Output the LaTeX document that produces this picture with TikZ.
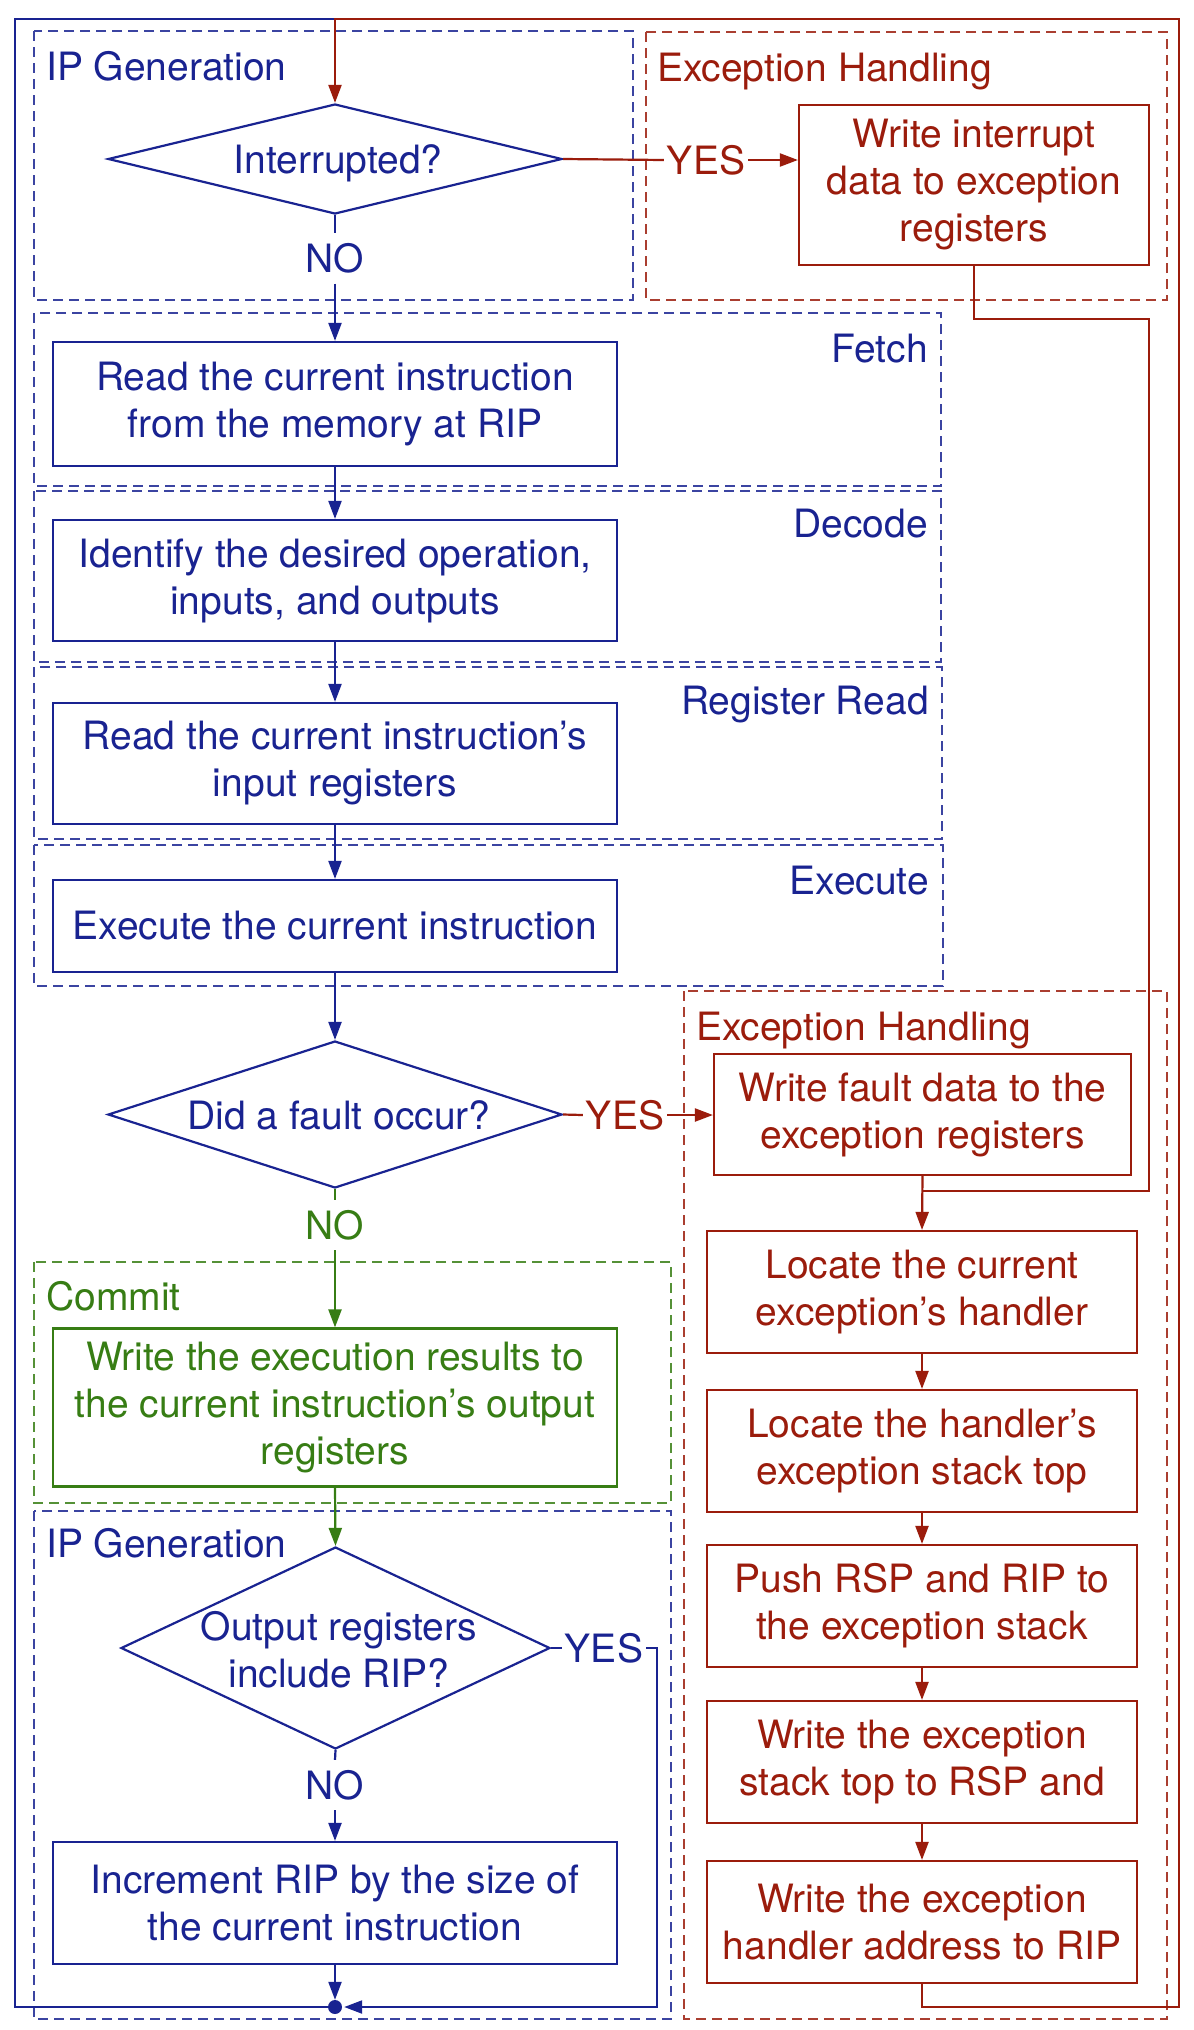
\documentclass[tikz,border=0pt]{standalone}
\usepackage{fontspec}
\setmainfont{TeX Gyre Heros}
\usetikzlibrary{arrows.meta,shapes.geometric}
\definecolor{cB}{RGB}{25,35,145}
\definecolor{cR}{RGB}{155,28,12}
\definecolor{cG}{RGB}{55,125,20}
\begin{document}
\begin{tikzpicture}[x=1pt,y=-1pt,
  every node/.style={font=\fontsize{39}{47}\selectfont},
  box/.style={draw=cB, text=cB, line width=2.2pt, align=center, inner sep=0pt, minimum width=564pt},
  gbox/.style={box, draw=cG, text=cG},
  rbox/.style={box, draw=cR, text=cR, minimum width=430pt, minimum height=122pt},
  dreg/.style={line width=2.2pt, dash pattern=on 10pt off 6pt},
  conn/.style={line width=2.2pt},
  arr/.style={conn, -{Triangle[length=18pt,width=13pt]}},
  lbl/.style={inner xsep=3pt, inner ysep=10pt},
  dia/.style={draw=cB, line width=2.2pt, diamond, inner sep=0pt},
  rlab/.style={inner sep=0pt},
]
\fill[white] (0,0) rectangle (1194,2030);
\useasboundingbox (0,0) rectangle (1194,2030);

% dashed regions
\draw[dreg, cB!85] (34,31) rectangle (633,300);
\draw[dreg, cR!85] (646,32) rectangle (1167,300);
\draw[dreg, cB!85] (34,313) rectangle (941,486);
\draw[dreg, cB!85] (34,491) rectangle (941,662);
\draw[dreg, cB!85] (34,667) rectangle (942,839);
\draw[dreg, cB!85] (34,845) rectangle (943,986);
\draw[dreg, cR!85] (684,991) rectangle (1167,2019);
\draw[dreg, cG!85] (34,1262) rectangle (671,1503);
\draw[dreg, cB!85] (34,1511) rectangle (671,2019);

% region labels
\node[rlab, anchor=base west, text=cB] (lipg1) at (46,80) {IP Generation};
\node[rlab, anchor=base west, text=cR] (leh1) at (657,81) {Exception Handling};
\node[rlab, anchor=base east, text=cB] (lfetch) at (928,362) {Fetch};
\node[rlab, anchor=base east, text=cB] (ldec) at (928,537) {Decode};
\node[rlab, anchor=base east, text=cB] (lrr) at (929,714) {Register Read};
\node[rlab, anchor=base east, text=cB] (lexe) at (929,894) {Execute};
\node[rlab, anchor=base west, text=cR] (leh2) at (696,1040) {Exception Handling};
\node[rlab, anchor=base west, text=cG] (lcom) at (46,1310) {Commit};
\node[rlab, anchor=base west, text=cB] (lipg2) at (46,1557) {IP Generation};

% main column
\node[dia, minimum width=454pt, minimum height=110pt] (int) at (335,159) {};
\node[rlab, anchor=base, text=cB] (intT) at (338,173) {Interrupted?};
\node[box, minimum height=124pt] (read) at (335,404) {Read the current instruction\\from the memory at RIP};
\node[box, minimum height=121pt] (ident) at (335,580.5) {Identify the desired operation,\\inputs, and outputs};
\node[box, minimum height=121pt] (rdin) at (335,763.5) {Read the current instruction’s\\input registers};
\node[box, minimum height=92pt] (exe) at (335,926) {Execute the current instruction};
\node[dia, minimum width=454pt, minimum height=147pt] (fault) at (335,1114.5) {};
\node[rlab, anchor=base, text=cB] (faultT) at (339,1129) {Did a fault occur?};
\node[gbox, minimum height=158pt] (wres) at (335,1407.5) {Write the execution results to\\the current instruction’s output\\registers};
\node[dia, minimum width=429pt, minimum height=202pt] (outq) at (335.5,1648) {};
\node[rlab, align=center, text=cB] (outT) at (339,1650) {Output registers\\include RIP?};
\node[box, minimum height=122pt] (inc) at (335,1903) {Increment RIP by the size of\\the current instruction};
\node[circle, fill=cB, inner sep=0pt, minimum size=14pt] (dot) at (335,2007) {};

% exception column
\node[rbox, minimum width=350pt, minimum height=160pt] (intb) at (974,185) {Write interrupt\\data to exception\\registers};
\node[rbox, minimum width=417pt, minimum height=121pt] (wf) at (922.5,1114.5) {Write fault data to the\\exception registers};
\node[rbox] (lc) at (922,1292) {Locate the current\\exception’s handler};
\node[rbox] (lh) at (922,1451) {Locate the handler’s\\exception stack top};
\node[rbox] (push) at (922,1606) {Push RSP and RIP to\\the exception stack};
\node[rbox] (wst) at (922,1762) {Write the exception\\stack top to RSP and};
\node[rbox] (wha) at (922,1922) {Write the exception\\handler address to RIP};

% connector labels
\node[lbl, text=cB] (no1) at (335,258.5) {NO};
\node[lbl, text=cR] (yes1) at (706,160) {YES};
\node[lbl, text=cR] (yes2) at (625,1115) {YES};
\node[lbl, text=cG] (no2) at (335,1225) {NO};
\node[lbl, text=cB] (yes3) at (604,1648) {YES};
\node[lbl, text=cB] (no3) at (335,1785) {NO};

% helper coordinates
\coordinate (c1) at (657,1648);
\coordinate (c2) at (657,2007);
\coordinate (c3) at (15,2007);
\coordinate (c4) at (15,19);
\coordinate (c5) at (335,19);
\coordinate (c6) at (922,2007);
\coordinate (c7) at (1179,2007);
\coordinate (c8) at (1179,19);
\coordinate (c9) at (974,319);
\coordinate (c10) at (1149,319);
\coordinate (c11) at (1149,1191);
\coordinate (c12) at (922,1191);

% connectors
\draw[conn, cB] (int.south) -- (no1.north);
\draw[arr, cB] (no1.south) -- (read.north);
\draw[conn, cR] (int.east) -- (yes1.west);
\draw[arr, cR] (yes1.east) -- (yes1.east -| intb.west);
\draw[arr, cB] (read.south) -- (ident.north);
\draw[arr, cB] (ident.south) -- (rdin.north);
\draw[arr, cB] (rdin.south) -- (exe.north);
\draw[arr, cB] (exe.south) -- (fault.north);
\draw[conn, cR] (fault.east) -- (yes2.west);
\draw[arr, cR] (yes2.east) -- (yes2.east -| wf.west);
\draw[conn, cG] (fault.south) -- (no2.north);
\draw[arr, cG] (no2.south) -- (wres.north);
\draw[arr, cG] (wres.south) -- (outq.north);
\draw[conn, cB] (outq.east) -- (yes3.west);
\draw[arr, cB, shorten >=2pt] (yes3.east) -- (c1) -- (c2) -- (dot.east);
\draw[conn, cB] (outq.south) -- (no3.north);
\draw[arr, cB] (no3.south) -- (inc.north);
\draw[arr, cB] (inc.south) -- (dot.north);
\draw[conn, cB] (dot.west) -- (c3) -- (c4) -- (c5);
\draw[arr, cR] (wha.south) -- (c6) -- (c7) -- (c8) -- (c5) -- (int.north);
\draw[conn, cR] (intb.south) -- (c9) -- (c10) -- (c11) -- (c12);
\draw[arr, cR] (wf.south) -- (lc.north);
\draw[arr, cR] (lc.south) -- (lh.north);
\draw[arr, cR] (lh.south) -- (push.north);
\draw[arr, cR] (push.south) -- (wst.north);
\draw[arr, cR] (wst.south) -- (wha.north);
\end{tikzpicture}
\end{document}
